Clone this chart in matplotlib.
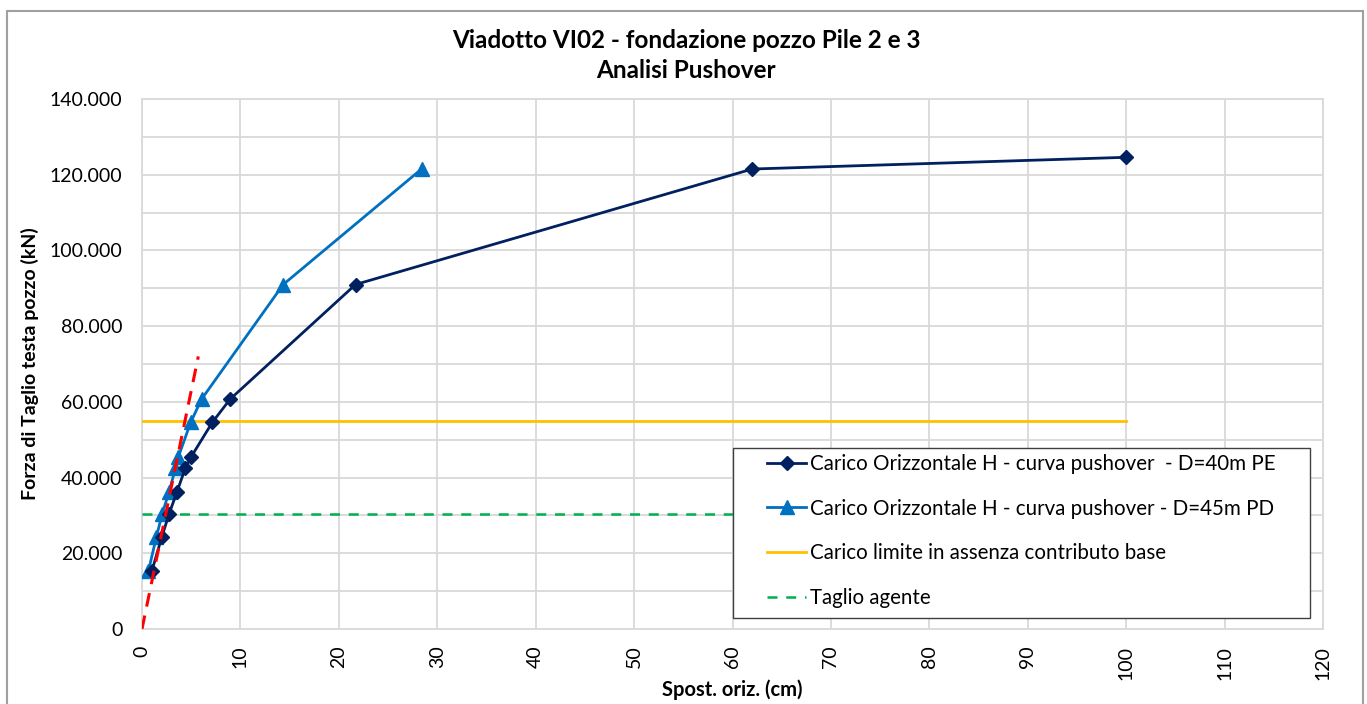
import matplotlib
matplotlib.use("Agg")
import matplotlib.pyplot as plt
from matplotlib.ticker import MultipleLocator, FuncFormatter
from matplotlib.patches import Rectangle

plt.rcParams['font.family'] = ['Lato', 'DejaVu Sans']

# Pushover curve, D=40m PE (displacement cm, shear kN)
x_pe = [1.0, 2.0, 2.75, 3.55, 4.4, 5.0, 7.15, 8.95, 21.7, 62.0, 100.0]
y_pe = [15300, 24200, 30400, 36200, 42500, 45500, 54600, 60700, 91000, 121500, 124600]

# Pushover curve, D=45m PD
x_pd = [0.65, 1.45, 2.05, 2.75, 3.4, 3.7, 4.95, 6.05, 14.35, 28.4]
y_pd = [15300, 24200, 30400, 36200, 42500, 45500, 54600, 60700, 91000, 121500]

# Limit load without base contribution
x_lim = [0, 100]
y_lim = [55000, 55000]

# Acting shear
x_shear = [0, 100]
y_shear = [30300, 30300]

# Initial stiffness line
x_k = [0, 5.72]
y_k = [0, 72000]

labels = [
    "Carico Orizzontale H - curva pushover  - D=40m PE",
    "Carico Orizzontale H - curva pushover - D=45m PD",
    "Carico limite in assenza contributo base",
    "Taglio agente",
]

W, H = 1367, 704
fig = plt.figure(figsize=(W / 100, H / 100), dpi=100)
ax = fig.add_axes([142 / W, 1 - 629 / H, (1323 - 142) / W, (629 - 99) / H])

grid_c = "#D9D9D9"
ax.plot(x_k, y_k, color="#FF0000", lw=2.2, dashes=(4.5, 3), zorder=5)
ax.plot(x_shear, y_shear, color="#00B050", lw=1.8, dashes=(4, 3.5), label=labels[3], zorder=3)
ax.plot(x_lim, y_lim, color="#FFC000", lw=2.0, label=labels[2], zorder=3)
ax.plot(x_pd, y_pd, color="#0070C0", lw=2.0, marker="^", ms=9.5, label=labels[1], zorder=4)
ax.plot(x_pe, y_pe, color="#002060", lw=2.0, marker="D", ms=7.5, label=labels[0], zorder=4)

ax.set_xlim(0, 120)
ax.set_ylim(0, 140000)
ax.xaxis.set_major_locator(MultipleLocator(10))
ax.yaxis.set_major_locator(MultipleLocator(20000))
ax.yaxis.set_minor_locator(MultipleLocator(10000))
ax.yaxis.set_major_formatter(FuncFormatter(lambda v, p: "0" if v == 0 else f"{int(v):,}".replace(",", ".")))
ax.grid(True, which="both", color=grid_c, lw=1.3)
ax.set_axisbelow(True)
for s in ax.spines.values():
    s.set_color(grid_c)
    s.set_linewidth(1.3)
ax.tick_params(axis="both", which="both", length=0, labelsize=14, colors="#000000")
ax.tick_params(axis="x", rotation=90, pad=12)
ax.tick_params(axis="y", pad=14)

ax.set_xlabel("Spost. oriz. (cm)", fontsize=14.5, fontweight="bold", labelpad=0)
ax.set_ylabel("Forza di Taglio testa pozzo (kN)", fontsize=14, fontweight="bold", labelpad=8)

fig.text(686 / W, 1 - 40 / H, "Viadotto VI02 - fondazione pozzo Pile 2 e 3", ha="center", va="center",
         fontsize=17.5, fontweight="bold")
fig.text(686 / W, 1 - 70 / H, "Analisi Pushover", ha="center", va="center",
         fontsize=17.5, fontweight="bold")

# Legend box
bx0, bx1, by0, by1 = (733 - 142) / 1181, (1310 - 142) / 1181, (629 - 618) / 530, (629 - 448) / 530
ax.add_patch(Rectangle((bx0, by0), bx1 - bx0, by1 - by0, transform=ax.transAxes, facecolor="white",
                       edgecolor="#404040", lw=1.0, zorder=4.5))
h, l = ax.get_legend_handles_labels()
order = [3, 2, 1, 0]
leg = ax.legend([h[i] for i in order], [l[i] for i in order],
                loc="center", bbox_to_anchor=(bx0, by0 + 0.004, bx1 - bx0, by1 - by0),
                fontsize=14.8, frameon=False, labelspacing=1.2, handlelength=1.9, handletextpad=0.2,
                borderpad=0, borderaxespad=0)
leg.set_zorder(6)

fig.patches.append(Rectangle((7 / W, -0.05), (1363 - 7) / W, 1 - 11 / H + 0.05, transform=fig.transFigure,
                             fill=False, edgecolor="#A0A0A0", lw=1.5))

fig.savefig("out.png", dpi=100)
